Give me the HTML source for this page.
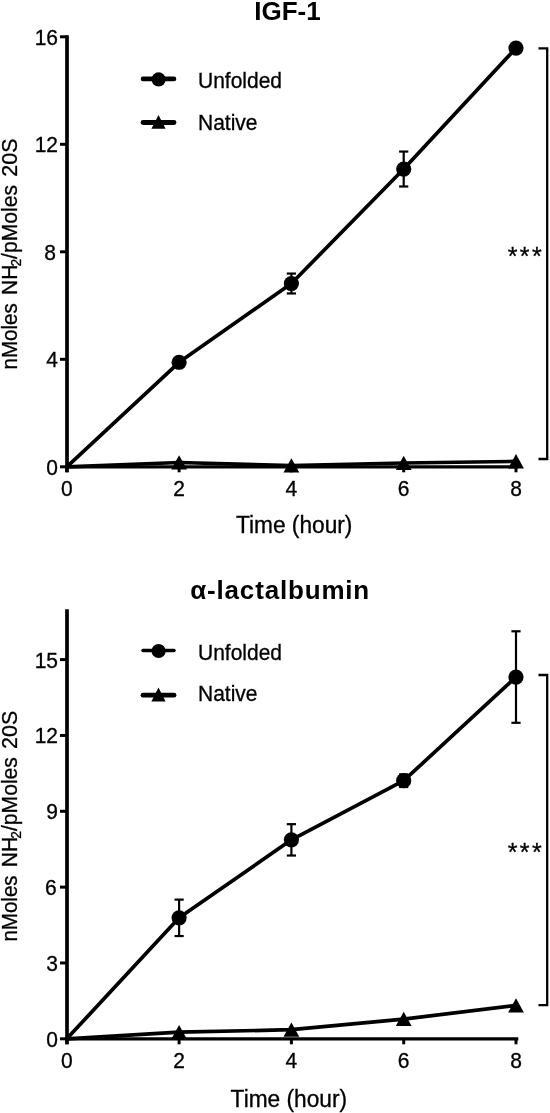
<!DOCTYPE html>
<html><head><meta charset="utf-8"><style>
html,body{margin:0;padding:0;background:#fff;}
svg{display:block;will-change:transform;}
text{font-family:"Liberation Sans", sans-serif;fill:#000;stroke:#000;stroke-width:0.3px;}
.b{stroke-width:0;}
</style></head><body>
<svg width="550" height="1113" viewBox="0 0 550 1113">
<rect width="550" height="1113" fill="#fff"/>
<line x1="67.0" y1="35.2" x2="67.0" y2="472.3" stroke="#000" stroke-width="3.7"/>
<line x1="65.2" y1="466.8" x2="518.3" y2="466.8" stroke="#000" stroke-width="3.3"/>
<line x1="60" y1="466.80" x2="67.0" y2="466.80" stroke="#000" stroke-width="3"/>
<text transform="translate(58.00,474.80) scale(1,1.04)" font-size="21" text-anchor="end">0</text>
<line x1="60" y1="359.30" x2="67.0" y2="359.30" stroke="#000" stroke-width="3"/>
<text transform="translate(58.00,367.30) scale(1,1.04)" font-size="21" text-anchor="end">4</text>
<line x1="60" y1="251.80" x2="67.0" y2="251.80" stroke="#000" stroke-width="3"/>
<text transform="translate(56.00,259.80) scale(1,1.04)" font-size="21" text-anchor="end">8</text>
<line x1="60" y1="144.30" x2="67.0" y2="144.30" stroke="#000" stroke-width="3"/>
<text transform="translate(58.00,152.30) scale(1,1.04)" font-size="21" text-anchor="end">12</text>
<line x1="60" y1="36.80" x2="67.0" y2="36.80" stroke="#000" stroke-width="3"/>
<text transform="translate(58.00,44.80) scale(1,1.04)" font-size="21" text-anchor="end">16</text>
<line x1="66.80" y1="466.8" x2="66.80" y2="472.3" stroke="#000" stroke-width="3"/>
<text transform="translate(66.80,495.80) scale(1,1.04)" font-size="21" text-anchor="middle">0</text>
<line x1="179.10" y1="466.8" x2="179.10" y2="472.3" stroke="#000" stroke-width="3"/>
<text transform="translate(179.10,495.80) scale(1,1.04)" font-size="21" text-anchor="middle">2</text>
<line x1="291.40" y1="466.8" x2="291.40" y2="472.3" stroke="#000" stroke-width="3"/>
<text transform="translate(291.40,495.80) scale(1,1.04)" font-size="21" text-anchor="middle">4</text>
<line x1="403.70" y1="466.8" x2="403.70" y2="472.3" stroke="#000" stroke-width="3"/>
<text transform="translate(403.70,495.80) scale(1,1.04)" font-size="21" text-anchor="middle">6</text>
<line x1="516.00" y1="466.8" x2="516.00" y2="472.3" stroke="#000" stroke-width="3"/>
<text transform="translate(516.00,495.80) scale(1,1.04)" font-size="21" text-anchor="middle">8</text>
<polyline points="66.8,466.8 179.1,462.5 291.4,465.5 403.7,463.0 516.0,461.4" fill="none" stroke="#000" stroke-width="3.7" stroke-linejoin="round"/>
<polyline points="66.8,466.8 179.1,362.3 291.4,283.5 403.7,169.0 516.0,48.1" fill="none" stroke="#000" stroke-width="3.7" stroke-linejoin="round"/>
<line x1="291.40" y1="273.57" x2="291.40" y2="293.46" stroke="#000" stroke-width="2.2"/>
<line x1="286.80" y1="273.57" x2="296.00" y2="273.57" stroke="#000" stroke-width="2.2"/>
<line x1="286.80" y1="293.46" x2="296.00" y2="293.46" stroke="#000" stroke-width="2.2"/>
<line x1="403.70" y1="151.56" x2="403.70" y2="186.49" stroke="#000" stroke-width="2.2"/>
<line x1="399.10" y1="151.56" x2="408.30" y2="151.56" stroke="#000" stroke-width="2.2"/>
<line x1="399.10" y1="186.49" x2="408.30" y2="186.49" stroke="#000" stroke-width="2.2"/>
<circle cx="179.10" cy="362.26" r="7.6" fill="#000"/>
<circle cx="291.40" cy="283.51" r="7.6" fill="#000"/>
<circle cx="403.70" cy="169.03" r="7.6" fill="#000"/>
<circle cx="516.00" cy="48.09" r="7.6" fill="#000"/>
<polygon points="179.10,455.20 187.00,469.50 171.20,469.50" fill="#000"/>
<polygon points="291.40,458.16 299.30,472.46 283.50,472.46" fill="#000"/>
<polygon points="403.70,455.74 411.60,470.04 395.80,470.04" fill="#000"/>
<polygon points="516.00,454.12 523.90,468.43 508.10,468.43" fill="#000"/>
<line x1="143" y1="78.9" x2="174" y2="78.9" stroke="#000" stroke-width="4.6" stroke-linecap="round"/>
<circle cx="158.6" cy="79.4" r="7.1" fill="#000"/>
<text transform="translate(198.00,87.60) scale(1,1.04)" font-size="21">Unfolded</text>
<line x1="143" y1="122.5" x2="174" y2="122.5" stroke="#000" stroke-width="4.8" stroke-linecap="round"/>
<polygon points="158.5,114.9 165.6,128.8 151.4,128.8" fill="#000"/>
<text transform="translate(198.00,130.00) scale(1,1.04)" font-size="21">Native</text>
<polyline points="538.5,48.3 547.2,48.3 547.2,459 538.5,459" fill="none" stroke="#000" stroke-width="2.3"/>
<text x="512.6" y="264.6" text-anchor="middle" font-size="25" fill="#1a1a1a" stroke="#1a1a1a" stroke-width="0.35">*</text>
<text x="524.7" y="264.6" text-anchor="middle" font-size="25" fill="#1a1a1a" stroke="#1a1a1a" stroke-width="0.35">*</text>
<text x="536.8" y="264.6" text-anchor="middle" font-size="25" fill="#1a1a1a" stroke="#1a1a1a" stroke-width="0.35">*</text>
<text transform="translate(287.50,19.50) scale(1,1.02)" font-size="26" text-anchor="middle" font-weight="bold" class="b">IGF-1</text>
<text transform="translate(17.3,369.40) scale(1.04,1) rotate(-90)" font-size="21.4" textLength="66.2" lengthAdjust="spacingAndGlyphs">nMoles</text>
<text transform="translate(17.3,295.10) scale(1.04,1) rotate(-90)" font-size="21.4" textLength="110.2" lengthAdjust="spacingAndGlyphs">NH<tspan font-size="14" dy="4" dx="-2">2</tspan><tspan dy="-4">/pMoles</tspan></text>
<text transform="translate(17.3,176.70) scale(1.04,1) rotate(-90)" font-size="21.4" textLength="38.2" lengthAdjust="spacingAndGlyphs">20S</text>
<text transform="translate(235.90,532.80) scale(1,1.04)" font-size="22.6" textLength="116.5" lengthAdjust="spacingAndGlyphs">Time (hour)</text>
<line x1="67.0" y1="609.3" x2="67.0" y2="1044.3" stroke="#000" stroke-width="3.7"/>
<line x1="65.2" y1="1038.8" x2="518.3" y2="1038.8" stroke="#000" stroke-width="3.3"/>
<line x1="60" y1="1038.80" x2="67.0" y2="1038.80" stroke="#000" stroke-width="3"/>
<text transform="translate(58.00,1046.80) scale(1,1.04)" font-size="21" text-anchor="end">0</text>
<line x1="60" y1="962.96" x2="67.0" y2="962.96" stroke="#000" stroke-width="3"/>
<text transform="translate(58.00,970.96) scale(1,1.04)" font-size="21" text-anchor="end">3</text>
<line x1="60" y1="887.12" x2="67.0" y2="887.12" stroke="#000" stroke-width="3"/>
<text transform="translate(56.70,895.12) scale(1,1.04)" font-size="21" text-anchor="end">6</text>
<line x1="60" y1="811.28" x2="67.0" y2="811.28" stroke="#000" stroke-width="3"/>
<text transform="translate(58.00,819.28) scale(1,1.04)" font-size="21" text-anchor="end">9</text>
<line x1="60" y1="735.44" x2="67.0" y2="735.44" stroke="#000" stroke-width="3"/>
<text transform="translate(58.00,743.44) scale(1,1.04)" font-size="21" text-anchor="end">12</text>
<line x1="60" y1="659.60" x2="67.0" y2="659.60" stroke="#000" stroke-width="3"/>
<text transform="translate(58.00,667.60) scale(1,1.04)" font-size="21" text-anchor="end">15</text>
<line x1="66.80" y1="1038.8" x2="66.80" y2="1044.3" stroke="#000" stroke-width="3"/>
<text transform="translate(66.80,1067.70) scale(1,1.04)" font-size="21" text-anchor="middle">0</text>
<line x1="179.10" y1="1038.8" x2="179.10" y2="1044.3" stroke="#000" stroke-width="3"/>
<text transform="translate(179.10,1067.70) scale(1,1.04)" font-size="21" text-anchor="middle">2</text>
<line x1="291.40" y1="1038.8" x2="291.40" y2="1044.3" stroke="#000" stroke-width="3"/>
<text transform="translate(291.40,1067.70) scale(1,1.04)" font-size="21" text-anchor="middle">4</text>
<line x1="403.70" y1="1038.8" x2="403.70" y2="1044.3" stroke="#000" stroke-width="3"/>
<text transform="translate(403.70,1067.70) scale(1,1.04)" font-size="21" text-anchor="middle">6</text>
<line x1="516.00" y1="1038.8" x2="516.00" y2="1044.3" stroke="#000" stroke-width="3"/>
<text transform="translate(516.00,1067.70) scale(1,1.04)" font-size="21" text-anchor="middle">8</text>
<polyline points="66.8,1038.8 179.1,1032.2 291.4,1029.7 403.7,1019.1 516.0,1005.4" fill="none" stroke="#000" stroke-width="3.7" stroke-linejoin="round"/>
<polyline points="66.8,1038.8 179.1,917.8 291.4,839.8 403.7,780.7 516.0,677.0" fill="none" stroke="#000" stroke-width="3.7" stroke-linejoin="round"/>
<line x1="179.10" y1="899.63" x2="179.10" y2="936.04" stroke="#000" stroke-width="2.2"/>
<line x1="174.50" y1="899.63" x2="183.70" y2="899.63" stroke="#000" stroke-width="2.2"/>
<line x1="174.50" y1="936.04" x2="183.70" y2="936.04" stroke="#000" stroke-width="2.2"/>
<line x1="291.40" y1="824.17" x2="291.40" y2="855.52" stroke="#000" stroke-width="2.2"/>
<line x1="286.80" y1="824.17" x2="296.00" y2="824.17" stroke="#000" stroke-width="2.2"/>
<line x1="286.80" y1="855.52" x2="296.00" y2="855.52" stroke="#000" stroke-width="2.2"/>
<line x1="403.70" y1="774.37" x2="403.70" y2="787.01" stroke="#000" stroke-width="2.2"/>
<line x1="399.10" y1="774.37" x2="408.30" y2="774.37" stroke="#000" stroke-width="2.2"/>
<line x1="399.10" y1="787.01" x2="408.30" y2="787.01" stroke="#000" stroke-width="2.2"/>
<line x1="516.00" y1="631.29" x2="516.00" y2="722.80" stroke="#000" stroke-width="2.2"/>
<line x1="511.40" y1="631.29" x2="520.60" y2="631.29" stroke="#000" stroke-width="2.2"/>
<line x1="511.40" y1="722.80" x2="520.60" y2="722.80" stroke="#000" stroke-width="2.2"/>
<circle cx="179.10" cy="917.84" r="7.6" fill="#000"/>
<circle cx="291.40" cy="839.85" r="7.6" fill="#000"/>
<circle cx="403.70" cy="780.69" r="7.6" fill="#000"/>
<circle cx="516.00" cy="677.04" r="7.6" fill="#000"/>
<polygon points="179.10,1024.93 187.00,1039.23 171.20,1039.23" fill="#000"/>
<polygon points="291.40,1022.40 299.30,1036.70 283.50,1036.70" fill="#000"/>
<polygon points="403.70,1011.78 411.60,1026.08 395.80,1026.08" fill="#000"/>
<polygon points="516.00,998.13 523.90,1012.43 508.10,1012.43" fill="#000"/>
<line x1="143" y1="650.5" x2="174" y2="650.5" stroke="#000" stroke-width="3.5" stroke-linecap="round"/>
<circle cx="158.6" cy="651.0" r="7.1" fill="#000"/>
<text transform="translate(198.00,660.00) scale(1,1.04)" font-size="21">Unfolded</text>
<line x1="143" y1="695.2" x2="174" y2="695.2" stroke="#000" stroke-width="4.8" stroke-linecap="round"/>
<polygon points="158.5,687.6 165.6,701.5 151.4,701.5" fill="#000"/>
<text transform="translate(198.00,701.30) scale(1,1.04)" font-size="21">Native</text>
<polyline points="538.5,675 547.2,675 547.2,1005.2 538.5,1005.2" fill="none" stroke="#000" stroke-width="2.3"/>
<text x="512.6" y="860.9" text-anchor="middle" font-size="25" fill="#1a1a1a" stroke="#1a1a1a" stroke-width="0.35">*</text>
<text x="524.7" y="860.9" text-anchor="middle" font-size="25" fill="#1a1a1a" stroke="#1a1a1a" stroke-width="0.35">*</text>
<text x="536.8" y="860.9" text-anchor="middle" font-size="25" fill="#1a1a1a" stroke="#1a1a1a" stroke-width="0.35">*</text>
<text transform="translate(279.75,599.00) scale(1,1.02)" font-size="26" text-anchor="middle" font-weight="bold" class="b" textLength="179" lengthAdjust="spacing">α-lactalbumin</text>
<text transform="translate(17.3,941.60) scale(1.04,1) rotate(-90)" font-size="21.4" textLength="66.2" lengthAdjust="spacingAndGlyphs">nMoles</text>
<text transform="translate(17.3,867.30) scale(1.04,1) rotate(-90)" font-size="21.4" textLength="110.2" lengthAdjust="spacingAndGlyphs">NH<tspan font-size="14" dy="4" dx="-2">2</tspan><tspan dy="-4">/pMoles</tspan></text>
<text transform="translate(17.3,748.90) scale(1.04,1) rotate(-90)" font-size="21.4" textLength="38.2" lengthAdjust="spacingAndGlyphs">20S</text>
<text transform="translate(230.60,1106.60) scale(1,1.04)" font-size="22.6" textLength="116.5" lengthAdjust="spacingAndGlyphs">Time (hour)</text>
</svg>
</body></html>
